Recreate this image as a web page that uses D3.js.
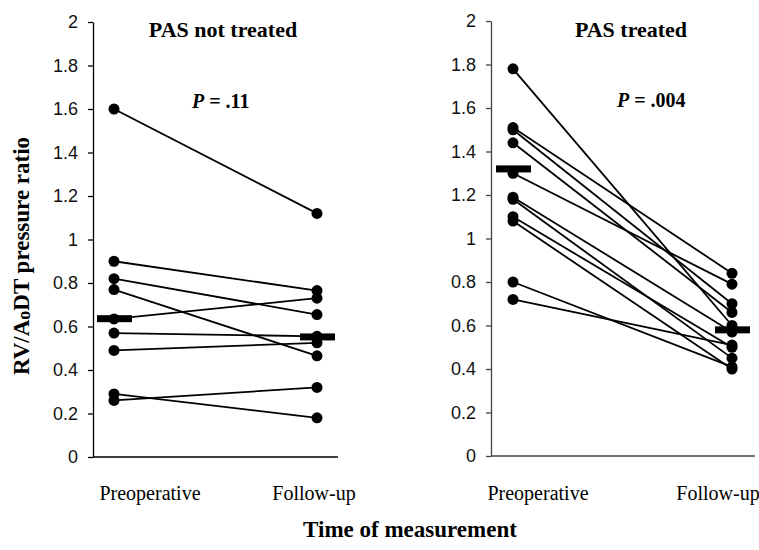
<!DOCTYPE html>
<html>
<head>
<meta charset="utf-8">
<script src="https://cdn.jsdelivr.net/npm/d3@7"></script>
<style>
  html, body { margin: 0; padding: 0; background: #fff; }
  svg { display: block; }
</style>
</head>
<body>
<div id="chart"></div>
<script>
// ---- Data ----
const timepoints = ["Preoperative", "Follow-up"];
const yTickLabels = ["0", "0.2", "0.4", "0.6", "0.8", "1", "1.2", "1.4", "1.6", "1.8", "2"];

// PAS not treated: each patient preoperative -> follow-up
const notTreatedPre  = [1.60, 0.90, 0.82, 0.77, 0.635, 0.57, 0.49, 0.29, 0.26];
const notTreatedPost = [1.12, 0.765, 0.655, 0.465, 0.73, 0.555, 0.525, 0.18, 0.32];
const notTreatedMedian = [0.636, 0.552];

// PAS treated
const treatedPre  = [1.78, 1.51, 1.50, 1.44, 1.30, 1.19, 1.18, 1.10, 1.08, 0.80, 0.72];
const treatedPost = [0.60, 0.84, 0.70, 0.66, 0.79, 0.57, 0.45, 0.50, 0.40, 0.41, 0.51];
const treatedMedian = [1.32, 0.58];

const panelTitles = ["PAS not treated", "PAS treated"];
const pValues = [".11", ".004"];

// ---- Layout ----
const W = 759, H = 550;
const serif = "'Liberation Serif', 'Times New Roman', serif";
const sans = "'Liberation Sans', Arial, sans-serif";

const svg = d3.select("#chart").append("svg")
  .attr("width", W).attr("height", H)
  .attr("viewBox", `0 0 ${W} ${H}`);

const panels = [
  { pre: notTreatedPre, post: notTreatedPost, median: notTreatedMedian,
    title: panelTitles[0], p: pValues[0],
    axisX: 93, xAxisEnd: 338, pts: [114, 317], labs: [150, 314],
    yRange: [457, 22], titleX: 223, pX: 192, pY: 108, axisColor: "#000" },
  { pre: treatedPre, post: treatedPost, median: treatedMedian,
    title: panelTitles[1], p: pValues[1],
    axisX: 491, xAxisEnd: 755, pts: [513, 732], labs: [538, 718],
    yRange: [456, 21], titleX: 631, pX: 617, pY: 107, axisColor: "#444" }
];

panels.forEach(P => {
  const g = svg.append("g");
  const y = d3.scaleLinear().domain([0, 2]).range(P.yRange);
  const x = d3.scalePoint().domain(timepoints).range(P.pts);
  const xl = d3.scalePoint().domain(timepoints).range(P.labs);

  // x axis line (baseline)
  g.append("line")
    .attr("x1", P.axisX).attr("x2", P.xAxisEnd)
    .attr("y1", y(0)).attr("y2", y(0))
    .attr("stroke", P.axisColor).attr("stroke-width", 1.3);

  // y axis
  const yAxis = d3.axisLeft(y)
    .tickValues(yTickLabels.map(Number))
    .tickFormat((d, i) => yTickLabels[i])
    .tickSize(5).tickSizeOuter(0).tickPadding(10);
  const ya = g.append("g").attr("transform", `translate(${P.axisX},0)`).call(yAxis);
  ya.select(".domain").attr("stroke", P.axisColor).attr("stroke-width", 1.3);
  ya.selectAll(".tick line").attr("stroke", P.axisColor).attr("stroke-width", 1.3);
  ya.selectAll(".tick text")
    .attr("font-family", sans).attr("font-size", 18).attr("fill", "#111");

  // x tick labels
  g.selectAll("text.xlab").data(timepoints).enter().append("text")
    .attr("class", "xlab")
    .attr("x", d => xl(d)).attr("y", 500)
    .attr("text-anchor", "middle")
    .attr("font-family", serif).attr("font-size", 20)
    .text(d => d);

  // connecting lines
  const pairs = P.pre.map((v, i) => [v, P.post[i]]);
  g.selectAll("line.pair").data(pairs).enter().append("line")
    .attr("class", "pair")
    .attr("x1", x(timepoints[0])).attr("x2", x(timepoints[1]))
    .attr("y1", d => y(d[0])).attr("y2", d => y(d[1]))
    .attr("stroke", "#000").attr("stroke-width", 1.8);

  // dots
  const dots = [];
  P.pre.forEach(v => dots.push({ t: timepoints[0], v }));
  P.post.forEach(v => dots.push({ t: timepoints[1], v }));
  g.selectAll("circle").data(dots).enter().append("circle")
    .attr("cx", d => x(d.t)).attr("cy", d => y(d.v))
    .attr("r", 5.5).attr("fill", "#000");

  // median markers
  g.selectAll("rect.med").data(P.median).enter().append("rect")
    .attr("class", "med")
    .attr("x", (d, i) => x(timepoints[i]) - 17)
    .attr("y", d => y(d) - 3.5)
    .attr("width", 35).attr("height", 7)
    .attr("fill", "#000");

  // panel title
  g.append("text")
    .attr("x", P.titleX).attr("y", 37)
    .attr("text-anchor", "middle")
    .attr("font-family", serif).attr("font-weight", "bold").attr("font-size", 22)
    .text(P.title);

  // P value
  const pt = g.append("text")
    .attr("x", P.pX).attr("y", P.pY)
    .attr("font-family", serif).attr("font-weight", "bold").attr("font-size", 20);
  pt.append("tspan").attr("font-style", "italic").text("P");
  pt.append("tspan").text(" = " + P.p);
});

// y-axis title
const yt = svg.append("text")
  .attr("transform", "translate(29,256) rotate(-90)")
  .attr("text-anchor", "middle")
  .attr("font-family", serif).attr("font-weight", "bold").attr("font-size", 23);
yt.append("tspan").text("RV/A");
yt.append("tspan").attr("font-size", 18).attr("dy", 1).text("o");
yt.append("tspan").attr("dy", -1).text("DT pressure ratio");

// x-axis title
svg.append("text")
  .attr("x", 410).attr("y", 537)
  .attr("text-anchor", "middle")
  .attr("font-family", serif).attr("font-weight", "bold").attr("font-size", 23)
  .text("Time of measurement");
</script>
</body>
</html>
